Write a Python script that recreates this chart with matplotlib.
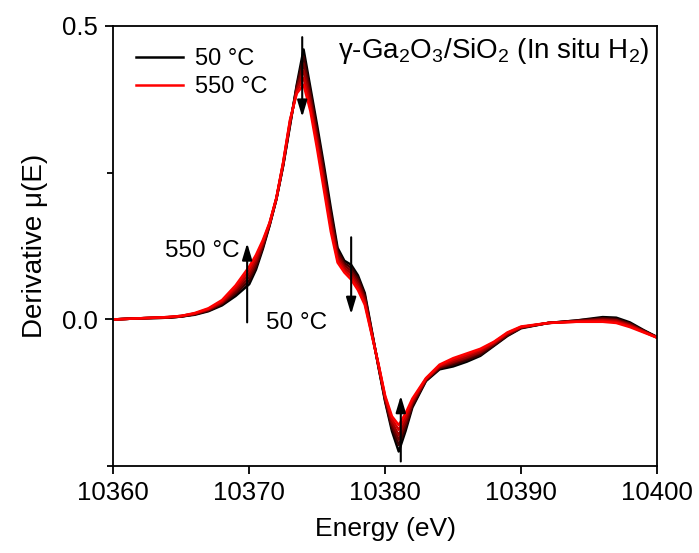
import numpy as np
import matplotlib.pyplot as plt

plt.rcParams['font.family'] = ['Liberation Sans', 'DejaVu Sans']
plt.rcParams['mathtext.fontset'] = 'custom'
plt.rcParams['mathtext.rm'] = 'Liberation Sans'
plt.rcParams['mathtext.default'] = 'regular'

# ============================================================
# DATA
# ============================================================
energy = [10360, 10362, 10364, 10365, 10366, 10367, 10368, 10369, 10370, 10370.5,
          10371, 10371.5, 10372, 10372.5, 10373, 10373.5, 10374, 10374.5, 10375, 10375.5,
          10376, 10376.5, 10377, 10377.5, 10378, 10378.5, 10379, 10379.5, 10380, 10380.5,
          10381, 10381.5, 10382, 10383, 10384, 10385, 10386, 10387, 10388, 10389,
          10390, 10392, 10394, 10396, 10397, 10398, 10399, 10400]

temps = ['50 °C', '150 °C', '250 °C', '350 °C', '450 °C', '550 °C']

d_50 = [0.000, 0.002, 0.003, 0.005, 0.008, 0.014, 0.024, 0.040, 0.060, 0.085,
        0.120, 0.160, 0.205, 0.262, 0.330, 0.400, 0.460, 0.395, 0.330, 0.262,
        0.190, 0.122, 0.100, 0.093, 0.075, 0.045, -0.017, -0.080, -0.140, -0.190,
        -0.225, -0.190, -0.150, -0.105, -0.085, -0.080, -0.072, -0.062, -0.045, -0.028,
        -0.015, -0.006, -0.002, 0.004, 0.003, -0.005, -0.018, -0.030]
d_150 = [0.000, 0.002, 0.003, 0.005, 0.009, 0.015, 0.026, 0.044, 0.066, 0.090,
         0.123, 0.161, 0.205, 0.263, 0.332, 0.397, 0.448, 0.387, 0.322, 0.254,
         0.182, 0.117, 0.096, 0.088, 0.070, 0.041, -0.019, -0.079, -0.138, -0.185,
         -0.214, -0.184, -0.147, -0.104, -0.083, -0.077, -0.069, -0.060, -0.044, -0.027,
         -0.014, -0.006, -0.002, 0.002, 0.001, -0.007, -0.019, -0.030]
d_250 = [0.000, 0.002, 0.003, 0.005, 0.009, 0.016, 0.028, 0.047, 0.072, 0.095,
         0.126, 0.162, 0.206, 0.264, 0.334, 0.394, 0.436, 0.379, 0.314, 0.245,
         0.174, 0.112, 0.092, 0.083, 0.065, 0.037, -0.020, -0.078, -0.136, -0.180,
         -0.205, -0.178, -0.144, -0.103, -0.082, -0.074, -0.066, -0.057, -0.042, -0.026,
         -0.014, -0.006, -0.003, 0.001, -0.001, -0.008, -0.020, -0.030]
d_350 = [0.000, 0.002, 0.004, 0.006, 0.010, 0.017, 0.029, 0.051, 0.078, 0.100,
         0.129, 0.163, 0.206, 0.266, 0.336, 0.391, 0.424, 0.371, 0.306, 0.237,
         0.166, 0.107, 0.088, 0.078, 0.060, 0.033, -0.022, -0.077, -0.134, -0.175,
         -0.197, -0.172, -0.141, -0.102, -0.080, -0.072, -0.064, -0.055, -0.041, -0.024,
         -0.013, -0.006, -0.003, -0.001, -0.002, -0.010, -0.020, -0.031]
d_450 = [0.000, 0.002, 0.004, 0.006, 0.010, 0.018, 0.031, 0.054, 0.084, 0.105,
         0.132, 0.164, 0.207, 0.267, 0.338, 0.388, 0.412, 0.363, 0.298, 0.228,
         0.158, 0.102, 0.084, 0.073, 0.055, 0.029, -0.023, -0.076, -0.132, -0.170,
         -0.188, -0.166, -0.138, -0.101, -0.079, -0.069, -0.061, -0.052, -0.039, -0.023,
         -0.013, -0.006, -0.004, -0.002, -0.004, -0.011, -0.021, -0.031]
d_550 = [0.000, 0.002, 0.004, 0.006, 0.011, 0.019, 0.033, 0.058, 0.090, 0.110,
         0.135, 0.165, 0.207, 0.268, 0.340, 0.385, 0.400, 0.355, 0.290, 0.220,
         0.150, 0.097, 0.080, 0.068, 0.050, 0.025, -0.025, -0.075, -0.130, -0.165,
         -0.180, -0.160, -0.135, -0.100, -0.077, -0.066, -0.058, -0.050, -0.038, -0.022,
         -0.012, -0.006, -0.004, -0.004, -0.006, -0.013, -0.022, -0.031]

series = [d_50, d_150, d_250, d_350, d_450, d_550]
colors = ['#000000', '#3a0000', '#700000', '#a00000', '#d00000', '#ff0000']

# ============================================================
# FIGURE
# ============================================================
fig = plt.figure(figsize=(6.99, 5.53), dpi=100)
ax = fig.add_axes([0.162, 0.157, 0.778, 0.796])

for i, (vals, col) in enumerate(zip(series, colors)):
    lab = temps[i] if i in (0, len(series) - 1) else None
    ax.plot(energy, vals, '-', color=col, linewidth=1.8, label=lab, zorder=2 + i * 0.1)

# arrows showing trend with temperature
arrow_kw = dict(arrowstyle='-|>,head_length=1.0,head_width=0.3', color='black',
                lw=1.5, shrinkA=0, shrinkB=0)
ax.annotate('', xy=(10373.9, 0.345), xytext=(10373.9, 0.481), arrowprops=arrow_kw, zorder=5)
ax.annotate('', xy=(10369.85, 0.130), xytext=(10369.85, -0.005), arrowprops=arrow_kw, zorder=5)
ax.annotate('', xy=(10377.5, 0.009), xytext=(10377.5, 0.140), arrowprops=arrow_kw, zorder=5)
ax.annotate('', xy=(10381.15, -0.130), xytext=(10381.15, -0.242), arrowprops=arrow_kw, zorder=5)

ax.text(10369.3, 0.117, '550 °C', fontsize=17.5, ha='right', va='center')
ax.text(10371.2, -0.006, '50 °C', fontsize=17.5, ha='left', va='center')
ax.text(10399.4, 0.458, 'γ-Ga$_2$O$_3$/SiO$_2$ (In situ H$_2$)', fontsize=20,
        ha='right', va='center')

ax.set_xlim(10360, 10400)
ax.set_ylim(-0.25, 0.5)
ax.set_xticks([10360, 10370, 10380, 10390, 10400])
ax.set_yticks([0.0, 0.5])
ax.set_yticks([-0.25, 0.25], minor=True)
ax.set_yticklabels(['0.0', '0.5'])
ax.tick_params(axis='both', which='major', direction='out', length=6, width=1.3,
               labelsize=18.5, pad=5)
ax.tick_params(axis='y', which='minor', direction='out', length=4, width=1.3)
for sp in ax.spines.values():
    sp.set_linewidth(1.3)

ax.set_xlabel('Energy (eV)', fontsize=19, labelpad=8)
ax.set_ylabel('Derivative μ(E)', fontsize=20, labelpad=10)

ax.legend(loc='upper left', frameon=False, fontsize=17, handlelength=2.0,
          handletextpad=0.5, labelspacing=0.25, borderaxespad=0.55)

plt.savefig('out.png', dpi=100)
